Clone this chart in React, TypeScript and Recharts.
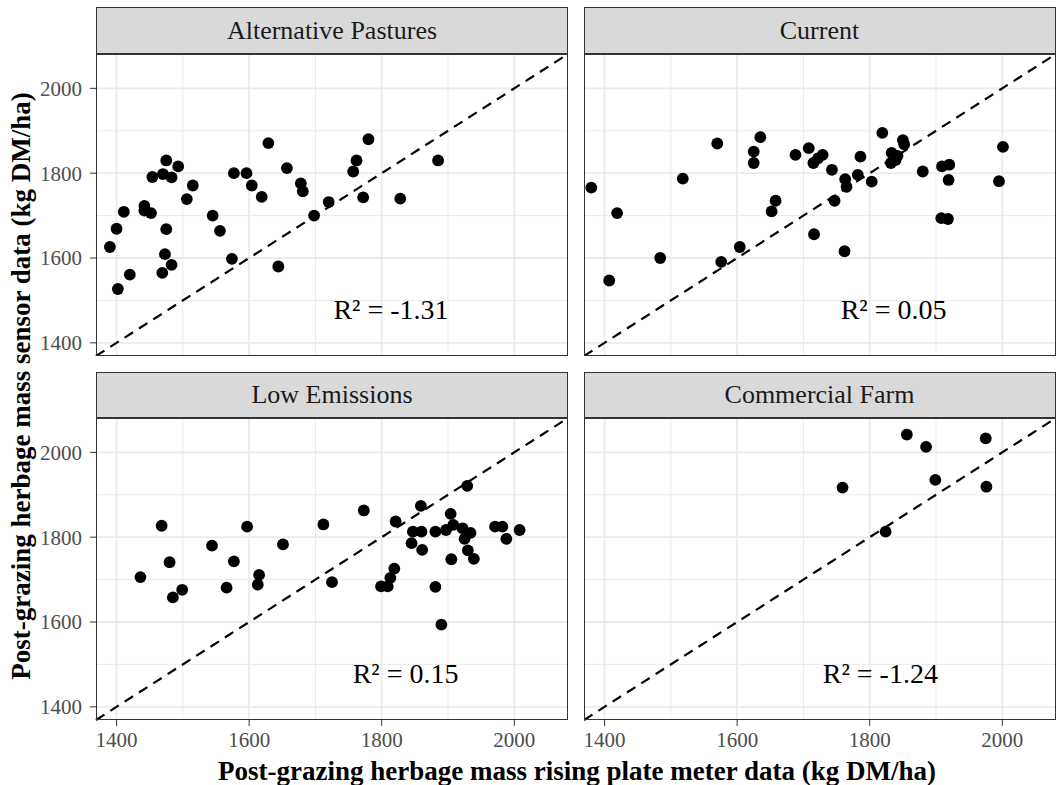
import React from 'react'
import { ScatterChart, Scatter, XAxis, YAxis, CartesianGrid, ReferenceLine } from 'recharts'

const FONT = '"Liberation Serif", "Times New Roman", serif'

// shared axis range for both x and y (the dashed 1:1 line runs corner to corner)
const DOMAIN: [number, number] = [1369, 2081]
const MAJOR = [1400, 1600, 1800, 2000]
const MINOR = [1500, 1700, 1900]

const FACETS = ['Alternative Pastures', 'Current', 'Low Emissions', 'Commercial Farm']
const R2_LABELS = ['R² = -1.31', 'R² = 0.05', 'R² = 0.15', 'R² = -1.24']
const R2_X = [1814, 1836, 1836, 1816]
const R2_Y = [1478, 1478, 1478, 1478]

// [plate meter, sensor]
const alternativePastures = [
  [1390, 1626], [1400, 1669], [1402, 1527], [1411, 1709], [1420, 1561], [1442, 1723],
  [1442, 1712], [1452, 1706], [1454, 1791], [1470, 1798], [1475, 1830], [1483, 1790],
  [1493, 1816], [1475, 1668], [1473, 1609], [1469, 1565], [1483, 1584], [1506, 1739],
  [1515, 1771], [1545, 1700], [1556, 1664], [1574, 1598], [1577, 1800], [1596, 1800],
  [1604, 1771], [1619, 1744], [1629, 1871], [1644, 1580], [1657, 1812], [1678, 1776],
  [1681, 1757], [1698, 1700], [1720, 1732], [1757, 1804], [1762, 1830], [1772, 1743],
  [1780, 1880], [1828, 1740], [1885, 1830],
]

const current = [
  [1380, 1766], [1407, 1547], [1419, 1706], [1484, 1600], [1518, 1787], [1570, 1870],
  [1576, 1591], [1604, 1626], [1625, 1851], [1625, 1824], [1635, 1885], [1652, 1710],
  [1658, 1735], [1688, 1843], [1708, 1859], [1715, 1824], [1722, 1835], [1729, 1843],
  [1716, 1656], [1743, 1808], [1747, 1735], [1763, 1786], [1765, 1768], [1762, 1616],
  [1782, 1796], [1786, 1839], [1803, 1780], [1819, 1895], [1833, 1848], [1842, 1841],
  [1839, 1831], [1832, 1824], [1850, 1878], [1852, 1868], [1880, 1804], [1909, 1816],
  [1920, 1820], [1919, 1784], [1908, 1694], [1918, 1692], [1995, 1781], [2001, 1862],
]

const lowEmissions = [
  [1436, 1706], [1468, 1827], [1480, 1741], [1485, 1658], [1499, 1676], [1544, 1780],
  [1566, 1681], [1577, 1743], [1597, 1825], [1615, 1711], [1613, 1688], [1651, 1783],
  [1712, 1830], [1725, 1694], [1773, 1863], [1799, 1684], [1809, 1684], [1813, 1704],
  [1819, 1726], [1821, 1837], [1845, 1786], [1847, 1813], [1860, 1813], [1859, 1874],
  [1861, 1770], [1881, 1813], [1881, 1683], [1890, 1594], [1897, 1817], [1904, 1855],
  [1905, 1748], [1908, 1829], [1922, 1821], [1925, 1796], [1929, 1921], [1930, 1769],
  [1934, 1810], [1939, 1749], [1971, 1825], [1982, 1825], [1988, 1796], [2008, 1817],
]

const commercialFarm = [
  [1759, 1917], [1824, 1813], [1856, 2042], [1885, 2013], [1899, 1935], [1975, 2033],
  [1976, 1919],
]

const SERIES = [alternativePastures, current, lowEmissions, commercialFarm]

const PANEL_LEFT = [96, 583.5]
const PANEL_TOP = [54, 418]
const STRIP_TOP = [7, 372]
const PW = 472
const PH = 302
const YW = 60
const XH = 40

const tickStyle = { fill: '#4D4D4D', fontSize: 21, fontFamily: FONT }

const Dot = (p: any) => <circle cx={p.cx} cy={p.cy} r={5.9} fill="#000" />
const Note = (p: any) => (
  <text x={p.cx} y={p.cy} textAnchor="middle" dominantBaseline="central" fontSize={28} fontFamily={FONT} fill="#000">
    {p.payload.label}
  </text>
)

function Panel({ i }: { i: number }) {
  const col = i % 2
  const row = Math.floor(i / 2)
  const showY = col === 0
  const showX = row === 1
  const left = PANEL_LEFT[col]
  const top = PANEL_TOP[row]
  const pts = SERIES[i].map(([x, y]) => ({ x, y }))
  const note = [{ x: R2_X[i], y: R2_Y[i], label: R2_LABELS[i] }]
  return (
    <>
      <div style={{
        position: 'absolute', left, top: STRIP_TOP[row], width: PW, height: top - STRIP_TOP[row],
        background: '#D9D9D9', border: '1.3px solid #333', boxSizing: 'border-box',
        display: 'flex', alignItems: 'center', justifyContent: 'center',
        fontSize: 26, color: '#1A1A1A', fontFamily: FONT,
      }}>{FACETS[i]}</div>
      <div style={{ position: 'absolute', left: showY ? left - YW : left, top }}>
        <ScatterChart width={PW + (showY ? YW : 0)} height={PH + (showX ? XH : 0)} margin={{ top: 0, right: 0, bottom: 0, left: 0 }}>
          <CartesianGrid verticalValues={MINOR} horizontalValues={MINOR} stroke="#EBEBEB" strokeWidth={1} />
          <CartesianGrid verticalValues={MAJOR} horizontalValues={MAJOR} stroke="#EBEBEB" strokeWidth={1.8} />
          <XAxis type="number" dataKey="x" domain={DOMAIN} ticks={MAJOR} allowDataOverflow hide={!showX}
            height={XH} tickSize={6} tickMargin={6} axisLine={false} tickLine={{ stroke: '#333' }} tick={tickStyle} interval={0} />
          <YAxis type="number" dataKey="y" domain={DOMAIN} ticks={MAJOR} allowDataOverflow hide={!showY}
            width={YW} tickSize={6} tickMargin={8} axisLine={false} tickLine={{ stroke: '#333' }} tick={tickStyle} interval={0} />
          <ReferenceLine segment={[{ x: DOMAIN[0], y: DOMAIN[0] }, { x: DOMAIN[1], y: DOMAIN[1] }]}
            stroke="#000" strokeWidth={2.2} strokeDasharray="10 7" />
          <Scatter data={pts} isAnimationActive={false} shape={Dot} />
          <Scatter data={note} isAnimationActive={false} shape={Note} />
        </ScatterChart>
      </div>
      <div style={{
        position: 'absolute', left, top, width: PW, height: PH,
        border: '1.3px solid #333', boxSizing: 'border-box', pointerEvents: 'none',
      }} />
    </>
  )
}

export default function App() {
  return (
    <div style={{ position: 'absolute', left: 0, top: 0, width: 1057, height: 785, background: '#fff', fontFamily: FONT }}>
      {[0, 1, 2, 3].map(i => <Panel key={i} i={i} />)}
      <div style={{
        position: 'absolute', left: 21, top: 386, transform: 'translate(-50%, -50%) rotate(-90deg)',
        whiteSpace: 'nowrap', fontWeight: 'bold', fontSize: 27, color: '#000',
      }}>Post-grazing herbage mass sensor data (kg DM/ha)</div>
      <div style={{
        position: 'absolute', left: 577, top: 771, transform: 'translate(-50%, -50%)',
        whiteSpace: 'nowrap', fontWeight: 'bold', fontSize: 27, color: '#000',
      }}>Post-grazing herbage mass rising plate meter data (kg DM/ha)</div>
    </div>
  )
}
